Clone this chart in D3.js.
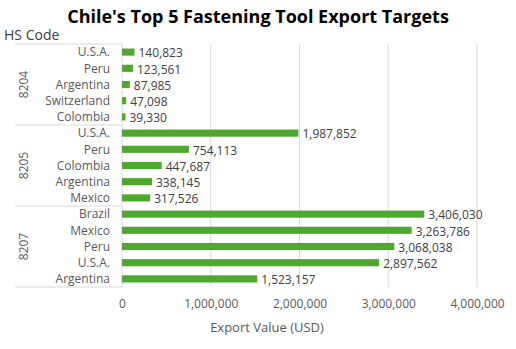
<!DOCTYPE html>
<html><head><meta charset="utf-8">
<script src="https://cdn.jsdelivr.net/npm/d3@7/dist/d3.min.js"></script>
<style>body{margin:0;background:#fff}svg{display:block}text{font-family:"Open Sans","Noto Sans",sans-serif}</style>
</head><body>
<svg id="c" width="516" height="349"></svg>
<script>
const groups = ["8204","8205","8207"];
const categories = [
  ["U.S.A.","Peru","Argentina","Switzerland","Colombia"],
  ["U.S.A.","Peru","Colombia","Argentina","Mexico"],
  ["Brazil","Mexico","Peru","U.S.A.","Argentina"]
];
const values = [
  [140823,123561,87985,47098,39330],
  [1987852,754113,447687,338145,317526],
  [3406030,3263786,3068038,2897562,1523157]
];
const xTicks = [0,1000000,2000000,3000000,4000000];

const svg = d3.select("#c");
const L = 122, R = 477, T = 44, B = 287;
const rows = [];
groups.forEach((g,gi)=>categories[gi].forEach((c,ci)=>rows.push({g,c,v:values[gi][ci],key:g+"|"+c})));
const x = d3.scaleLinear().domain([0,4000000]).range([L,R]);
const y = d3.scaleBand().domain(rows.map(d=>d.key)).range([T,B]).paddingInner(0.56).paddingOuter(0.28);
const fmt = d3.format(",");

// title
svg.append("text").attr("x",258).attr("y",23).attr("text-anchor","middle")
  .attr("font-size",18).attr("font-weight","bold").attr("fill","#000")
  .text("Chile's Top 5 Fastening Tool Export Targets");
svg.append("text").attr("x",4).attr("y",40).attr("font-size",14).attr("fill","#404040").text("HS Code");

// gridlines
svg.append("g").selectAll("line").data(xTicks.slice(1)).join("line")
  .attr("x1",d=>x(d)).attr("x2",d=>x(d)).attr("y1",T).attr("y2",B)
  .attr("stroke","#d9d9d9").attr("stroke-width",1);

// x axis labels
const xa = svg.append("g").attr("transform",`translate(0,${B})`)
  .call(d3.axisBottom(x).tickValues(xTicks).tickFormat(fmt).tickSize(0).tickPadding(12));
xa.select(".domain").remove();
xa.selectAll("text").attr("font-size",12).attr("fill","#595959").style("font-family",'"Open Sans","Noto Sans",sans-serif');

svg.append("text").attr("x",267).attr("y",332).attr("text-anchor","middle").attr("font-size",13)
  .attr("fill","#595959").text("Export Value (USD)");

// group separators
const gH = (B-T)/groups.length;
const sep = [0,1,2,3].map(i=>T+i*gH);
svg.append("g").selectAll("line").data(sep).join("line")
  .attr("x1",15).attr("x2",L).attr("y1",d=>d).attr("y2",d=>d)
  .attr("stroke","#d9d9d9");
svg.append("line").attr("x1",L).attr("x2",L).attr("y1",T).attr("y2",B).attr("stroke","#d9d9d9");

// group labels
svg.append("g").selectAll("text").data(groups).join("text")
  .attr("transform",(d,i)=>`translate(28,${T+gH*(i+0.5)}) rotate(-90)`)
  .attr("text-anchor","middle").attr("font-size",12).attr("fill","#595959").text(d=>d);

// category labels
svg.append("g").selectAll("text").data(rows).join("text")
  .attr("x",110).attr("y",d=>y(d.key)+y.bandwidth()/2).attr("dy","0.35em")
  .attr("text-anchor","end").attr("font-size",12).attr("fill","#595959").text(d=>d.c);

// bars
svg.append("g").selectAll("rect").data(rows).join("rect")
  .attr("x",x(0)).attr("y",d=>y(d.key)).attr("width",d=>x(d.v)-x(0)).attr("height",y.bandwidth())
  .attr("fill","#4EA72E");

// data labels
svg.append("g").selectAll("text").data(rows).join("text")
  .attr("x",d=>x(d.v)+4).attr("y",d=>y(d.key)+y.bandwidth()/2+1).attr("dy","0.35em")
  .attr("font-size",12).attr("fill","#404040").text(d=>fmt(d.v));
</script>
</body></html>
